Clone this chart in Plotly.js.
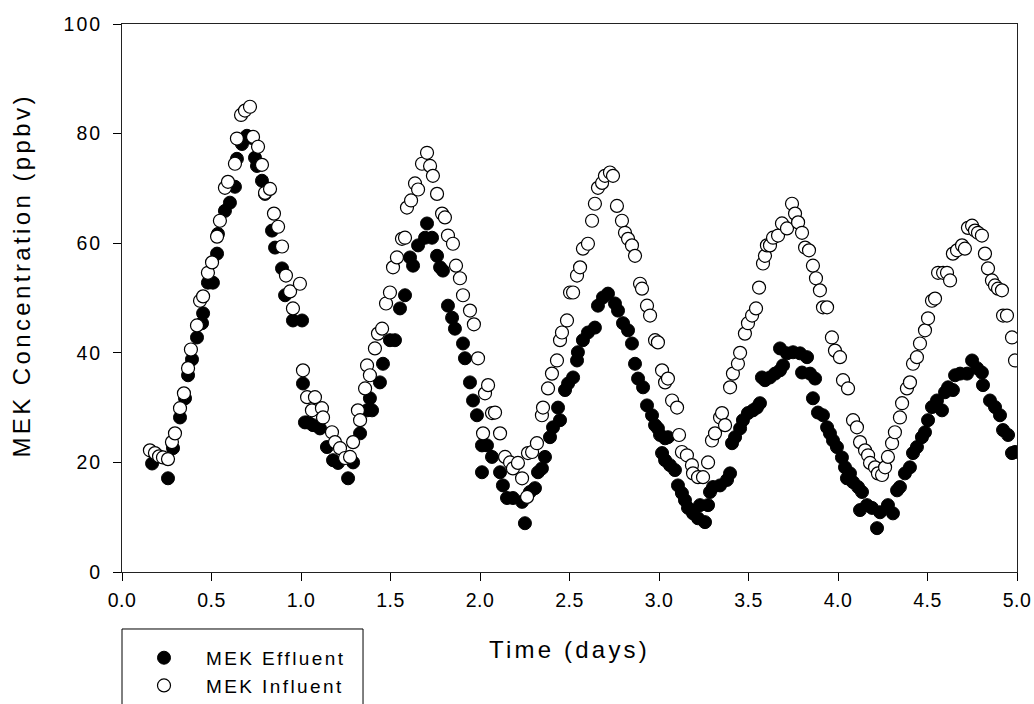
<!DOCTYPE html>
<html>
<head>
<meta charset="utf-8">
<script src="https://cdn.plot.ly/plotly-3.0.1.min.js"></script>
<style>
  html, body { margin: 0; padding: 0; background: #fff; }
  #chart { width: 1034px; height: 704px; }
  .xtick text { letter-spacing: 0.5px; }
  .ytick text { letter-spacing: 2px; }
  .g-xtitle text { letter-spacing: 3.2px; }
  .annotation-text { letter-spacing: 3.4px; }
  .legendtext { letter-spacing: 2.4px; }
</style>
</head>
<body>
<div id="chart"></div>
<script>
// MEK Effluent (time in days, concentration in ppbv)
const effluentTime = [
  0.168,0.257,0.285,0.324,0.352,0.369,0.391,0.419,0.447,0.453,0.480,0.508,0.531,0.536,0.575,0.603,0.631,0.642,0.670,0.698,
  0.726,0.743,0.754,0.782,0.799,0.838,0.855,0.894,0.911,0.955,1.006,1.011,1.022,1.039,1.067,1.106,1.145,1.179,1.207,1.263,
  1.291,1.330,1.369,1.385,1.397,1.441,1.458,1.497,1.525,1.553,1.581,1.609,1.626,1.654,1.693,1.704,1.732,1.760,1.777,1.793,
  1.821,1.844,1.860,1.905,1.916,1.944,1.961,1.983,2.011,2.011,2.039,2.067,2.112,2.128,2.151,2.184,2.235,2.251,2.279,2.307,
  2.324,2.346,2.363,2.391,2.408,2.436,2.447,2.475,2.492,2.520,2.542,2.547,2.575,2.603,2.642,2.659,2.687,2.715,2.754,2.771,
  2.799,2.827,2.849,2.866,2.883,2.911,2.933,2.961,2.978,2.994,3.006,3.017,3.034,3.034,3.050,3.061,3.089,3.106,3.128,3.145,
  3.162,3.190,3.218,3.229,3.257,3.274,3.285,3.302,3.341,3.380,3.397,3.408,3.425,3.453,3.469,3.497,3.525,3.547,3.564,3.575,
  3.592,3.620,3.648,3.676,3.676,3.693,3.715,3.749,3.788,3.799,3.827,3.844,3.860,3.872,3.888,3.916,3.939,3.955,3.972,3.994,
  4.022,4.039,4.050,4.067,4.084,4.112,4.123,4.134,4.162,4.190,4.218,4.235,4.279,4.307,4.330,4.346,4.374,4.402,4.419,4.441,
  4.469,4.486,4.503,4.525,4.553,4.581,4.598,4.615,4.642,4.654,4.682,4.721,4.749,4.777,4.804,4.810,4.849,4.877,4.905,4.922,
  4.950,4.972,4.989
];
const effluentValue = [
  19.8,17.1,22.6,28.2,31.7,35.9,38.8,42.8,45.4,47.2,52.8,52.8,58.1,61.7,65.9,67.4,70.3,75.4,78.1,79.6,
  79.2,75.6,74.1,71.4,69.0,62.3,59.2,55.4,50.5,45.9,45.9,34.4,27.3,27.3,26.8,26.2,22.8,20.4,19.9,17.1,
  20.0,25.3,29.5,31.7,29.5,34.6,38.0,42.3,42.3,48.1,50.5,57.4,55.9,59.6,61.0,63.6,61.0,57.7,55.6,55.0,
  48.6,46.4,44.4,41.7,39.0,34.6,31.3,28.6,23.1,18.2,23.1,21.0,18.2,15.8,13.5,13.5,12.8,8.9,14.6,15.3,
  18.2,18.9,21.0,24.6,26.4,30.0,27.7,33.2,34.4,35.5,38.6,40.1,42.3,43.7,44.6,48.6,50.1,50.8,49.0,47.7,
  45.4,44.1,41.7,38.0,35.3,33.7,30.4,28.6,26.8,26.2,25.0,21.7,24.4,20.4,24.6,19.5,18.6,15.8,14.4,13.1,
  11.7,10.7,9.8,12.2,9.1,12.2,14.6,15.5,15.8,16.8,18.0,23.5,24.6,26.2,27.7,29.0,29.5,30.0,30.8,35.5,
  35.0,35.5,36.2,36.8,40.8,37.7,39.9,40.1,39.9,36.4,39.2,36.2,31.7,35.3,29.1,28.6,26.4,25.3,24.0,22.8,
  20.9,19.1,17.1,18.0,16.4,15.5,11.3,14.6,12.2,11.7,8.0,10.9,12.2,10.7,14.9,15.5,18.0,19.1,21.7,22.8,
  24.6,25.5,27.7,30.1,31.3,29.5,32.8,33.7,33.2,35.9,36.2,36.2,38.6,37.2,36.4,34.1,31.3,30.1,28.6,25.9,
  25.0,21.7,21.9
];

// MEK Influent (time in days, concentration in ppbv)
const influentTime = [
  0.156,0.184,0.207,0.229,0.257,0.279,0.296,0.324,0.346,0.369,0.385,0.419,0.436,0.453,0.480,0.503,0.531,0.547,0.575,0.592,
  0.631,0.642,0.665,0.687,0.715,0.732,0.760,0.782,0.799,0.827,0.849,0.872,0.894,0.916,0.939,0.955,0.994,1.011,1.034,1.061,
  1.078,1.117,1.123,1.173,1.190,1.218,1.246,1.274,1.291,1.318,1.330,1.358,1.369,1.385,1.413,1.430,1.453,1.475,1.497,1.514,
  1.536,1.564,1.581,1.592,1.615,1.637,1.654,1.676,1.704,1.721,1.737,1.760,1.788,1.804,1.821,1.849,1.866,1.888,1.905,1.944,
  1.966,1.989,2.017,2.028,2.045,2.067,2.084,2.112,2.140,2.168,2.184,2.212,2.235,2.263,2.268,2.291,2.318,2.346,2.352,2.380,
  2.402,2.430,2.447,2.458,2.486,2.503,2.520,2.542,2.559,2.575,2.603,2.626,2.642,2.659,2.682,2.698,2.726,2.743,2.765,2.793,
  2.810,2.827,2.849,2.866,2.894,2.905,2.933,2.950,2.978,2.994,3.017,3.034,3.050,3.073,3.101,3.112,3.128,3.156,3.184,3.190,
  3.218,3.246,3.274,3.296,3.313,3.341,3.352,3.369,3.397,3.413,3.441,3.453,3.480,3.497,3.520,3.542,3.559,3.581,3.592,3.603,
  3.620,3.637,3.665,3.687,3.715,3.743,3.760,3.777,3.799,3.816,3.838,3.860,3.877,3.899,3.916,3.939,3.966,3.983,4.011,4.028,
  4.056,4.084,4.106,4.123,4.151,4.168,4.179,4.207,4.223,4.246,4.263,4.279,4.302,4.318,4.346,4.358,4.385,4.402,4.419,4.441,
  4.458,4.486,4.503,4.525,4.542,4.559,4.587,4.609,4.626,4.642,4.665,4.693,4.709,4.726,4.749,4.765,4.782,4.804,4.821,4.838,
  4.860,4.877,4.894,4.916,4.922,4.944,4.972,4.989
];
const influentValue = [
  22.2,21.7,21.1,20.9,20.6,23.7,25.3,29.9,32.6,37.2,40.6,45.0,49.5,50.3,54.6,56.5,61.2,64.1,70.1,71.2,
  74.5,79.1,83.4,84.2,84.9,79.4,77.6,74.3,69.2,69.9,65.4,63.0,59.4,54.1,51.2,48.1,52.6,36.8,31.9,29.5,
  31.9,29.9,28.2,25.5,23.7,22.6,20.8,21.0,23.7,29.5,27.7,33.5,37.7,35.9,40.8,43.5,44.4,49.0,51.0,55.6,
  57.4,60.8,61.0,66.5,67.8,70.9,69.8,74.5,76.5,74.1,72.3,69.0,65.4,64.7,61.4,59.9,55.9,53.6,50.5,47.7,
  45.2,39.0,25.3,32.6,34.1,29.0,29.1,25.3,21.0,20.0,18.9,19.9,17.1,13.7,21.7,21.9,23.5,28.6,30.0,33.5,
  36.2,38.6,42.3,43.7,45.9,51.0,51.0,54.1,55.6,59.0,59.9,64.1,67.2,70.1,71.0,72.3,72.9,72.3,66.8,64.1,
  61.9,60.8,59.6,57.7,52.6,51.7,48.6,46.8,42.3,41.9,36.8,34.6,35.3,31.3,30.0,25.0,21.9,21.3,19.5,18.0,
  17.3,17.3,20.0,24.0,25.3,28.2,29.0,26.8,33.7,36.2,38.0,40.0,43.5,45.4,46.8,48.1,51.9,56.3,57.7,59.6,
  59.6,61.0,61.4,63.6,62.7,67.2,65.4,63.8,61.9,59.2,58.7,55.9,53.6,51.4,48.3,48.3,42.8,40.4,39.2,35.0,
  33.5,27.7,26.4,23.7,22.2,21.3,19.9,19.1,18.0,17.7,19.1,21.0,23.5,25.5,28.2,30.8,33.5,34.6,38.0,39.2,
  41.7,44.1,46.3,49.5,49.9,54.6,54.6,54.6,53.2,58.1,58.7,59.6,59.0,62.8,63.2,62.3,61.9,61.4,58.1,55.4,
  53.2,52.3,51.7,51.4,46.8,46.8,42.8,38.6
];

const xTickVals = [0, 0.5, 1, 1.5, 2, 2.5, 3, 3.5, 4, 4.5, 5];
const xTickText = ['0.0','0.5','1.0','1.5','2.0','2.5','3.0','3.5','4.0','4.5','5.0'];
const yTickVals = [0, 20, 40, 60, 80, 100];
const yTickText = ['0','20','40','60','80','100'];

const FONT = '"Liberation Sans", Arial, sans-serif';

const traces = [
  {
    type: 'scatter', mode: 'markers', name: 'MEK Effluent',
    x: effluentTime, y: effluentValue,
    marker: { symbol: 'circle', size: 13, color: '#000000', line: { color: '#000000', width: 1 } },
    legendgroup: 'a'
  },
  {
    type: 'scatter', mode: 'markers', name: 'MEK Influent',
    x: influentTime, y: influentValue,
    marker: { symbol: 'circle', size: 13, color: '#ffffff', line: { color: '#000000', width: 1.2 } },
    legendgroup: 'b'
  }
];

const layout = {
  width: 1034, height: 704,
  margin: { l: 122, r: 17, t: 24, b: 132, autoexpand: false },
  paper_bgcolor: '#ffffff', plot_bgcolor: '#ffffff',
  font: { family: FONT, size: 19.5, color: '#000000' },
  showlegend: true,
  xaxis: {
    range: [0, 5], tickvals: xTickVals, ticktext: xTickText,
    ticks: 'outside', ticklen: 8, tickwidth: 1, tickcolor: '#000',
    showline: true, linecolor: '#222', linewidth: 1, mirror: true,
    showgrid: false, zeroline: false, ticklabelstandoff: 3,
    tickfont: { family: FONT, size: 19.5, color: '#000' },
    title: { text: 'Time (days)', font: { family: FONT, size: 24, color: '#000' }, standoff: 30 }
  },
  yaxis: {
    range: [0, 100], tickvals: yTickVals, ticktext: yTickText,
    ticks: 'outside', ticklen: 8, tickwidth: 1, tickcolor: '#000',
    showline: true, linecolor: '#222', linewidth: 1, mirror: true,
    showgrid: false, zeroline: false, ticklabelstandoff: 7,
    tickfont: { family: FONT, size: 19.5, color: '#000' }
  },
  annotations: [
    {
      xref: 'paper', yref: 'paper', x: -0.1117, y: 0.541,
      xanchor: 'center', yanchor: 'middle', textangle: -90, showarrow: false,
      text: 'MEK Concentration (ppbv)',
      font: { family: FONT, size: 24, color: '#000' }
    }
  ],
  shapes: [
    {
      type: 'rect', xref: 'paper', yref: 'paper',
      x0: 0, x1: 0.2693, y0: -0.1040, y1: -0.25,
      line: { color: '#000', width: 1 }, fillcolor: 'rgba(0,0,0,0)'
    }
  ],
  legend: {
    x: 0.0, y: -0.122, xanchor: 'left', yanchor: 'top',
    xref: 'paper', yref: 'paper',
    bgcolor: 'rgba(0,0,0,0)', borderwidth: 0,
    itemwidth: 74, traceorder: 'grouped', tracegroupgap: 0,
    font: { family: FONT, size: 19, color: '#000' }
  }
};

Plotly.newPlot('chart', traces, layout, { displayModeBar: false, staticPlot: true });
</script>
</body>
</html>
